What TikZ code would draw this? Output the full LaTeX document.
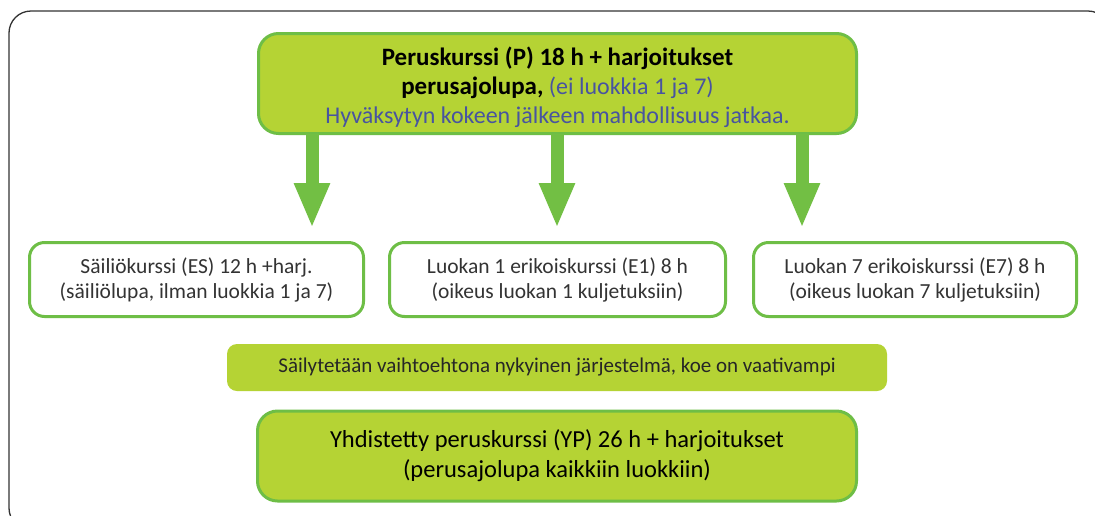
\documentclass[tikz,border=0pt]{standalone}
\usepackage{fontspec}
\setmainfont{Carlito}
\usepackage{tikz}
\usetikzlibrary{arrows.meta,positioning}
\definecolor{boxfill}{RGB}{181,211,52}
\definecolor{boxline}{RGB}{110,190,70}
\definecolor{arrowgreen}{RGB}{114,191,68}
\definecolor{textblue}{RGB}{72,84,160}
\definecolor{textgray}{RGB}{51,51,51}
\tikzset{
    mainbox/.style={rectangle, rounded corners=20pt, draw=boxline, fill=boxfill, line width=3pt, align=center, inner sep=0pt, outer sep=0pt},
    subbox/.style={rectangle, rounded corners=15pt, draw=boxline, fill=white, line width=3pt, align=center, inner sep=0pt, outer sep=0pt, minimum height=74pt, text=textgray, font=\fontsize{21.5}{25}\selectfont},
    band/.style={rectangle, rounded corners=10pt, fill=boxfill, align=center, inner sep=0pt, outer sep=0pt, text=black!85, font=\fontsize{21}{22}\selectfont},
    bigarrow/.style={draw=arrowgreen, line width=13pt, -{Triangle[length=45pt, width=33pt]}},
    frame/.style={draw=black!80, line width=1.3pt, rounded corners=22pt}
}

\begin{document}
\begin{tikzpicture}[x=1pt, y=-1pt]
    \clip (0,0) rectangle (1095,515);
    \fill[white] (0,0) rectangle (1095,515);
    \draw[frame] (9,11) rectangle (1110,530);

    % Nodes
    \node[mainbox, minimum width=598pt, minimum height=100pt, font=\fontsize{24}{29}\selectfont] (P) at (557.5,83.5)
        {\rule{0pt}{27pt}{\fontsize{25}{29}\selectfont\bfseries Peruskurssi (P) 18 h + harjoitukset}\\
         {\fontsize{25}{29}\selectfont\bfseries perusajolupa,} \textcolor{textblue}{(ei luokkia 1 ja 7)}\\
         \textcolor{textblue}{Hyväksytyn kokeen jälkeen mahdollisuus jatkaa.}};
    \node[subbox, minimum width=334pt] (ES) at (196.5,279.5)
        {Säiliökurssi (ES) 12 h +harj.\\(säiliölupa, ilman luokkia 1 ja 7)};
    \node[subbox, minimum width=336pt] (E1) at (557.5,279.5)
        {Luokan 1 erikoiskurssi (E1) 8 h\\(oikeus luokan 1 kuljetuksiin)};
    \node[subbox, minimum width=323pt] (E7) at (915,279.5)
        {Luokan 7 erikoiskurssi (E7) 8 h\\(oikeus luokan 7 kuljetuksiin)};
    \node[band, minimum width=660pt, minimum height=47pt] (alt) at (557,367.5)
        {Säilytetään vaihtoehtona nykyinen järjestelmä, koe on vaativampi};
    \node[mainbox, minimum width=599pt, minimum height=90pt, font=\fontsize{24.5}{30}\selectfont] (YP) at (557,456)
        {Yhdistetty peruskurssi (YP) 26 h + harjoitukset\\(perusajolupa kaikkiin luokkiin)};

    % arrow tips
    \coordinate (t1) at (312,228);
    \coordinate (t2) at (557,228);
    \coordinate (t3) at (802,228);

    % edges
    \draw[bigarrow] (P.south -| t1) -- (t1);
    \draw[bigarrow] (P.south -| t2) -- (t2);
    \draw[bigarrow] (P.south -| t3) -- (t3);
\end{tikzpicture}
\end{document}
